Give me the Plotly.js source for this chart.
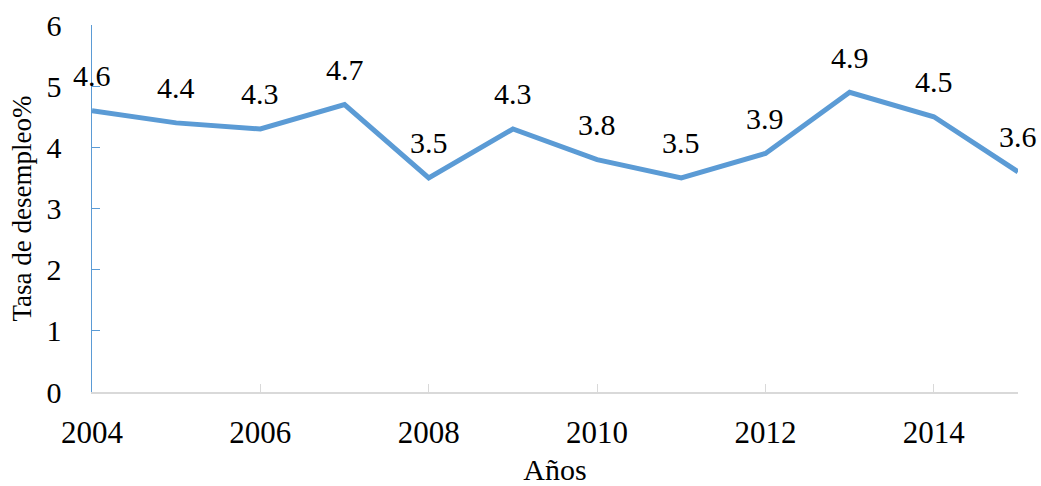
<!DOCTYPE html>
<html><head><meta charset="utf-8">
<script src="https://cdn.plot.ly/plotly-3.0.1.min.js"></script>
<style>html,body{margin:0;padding:0;background:#fff}#chart{width:1041px;height:486px}</style>
</head><body><div id="chart"></div>
<script>
const years = [2004,2005,2006,2007,2008,2009,2010,2011,2012,2013,2014,2015];
const unemployment = [4.6,4.4,4.3,4.7,3.5,4.3,3.8,3.5,3.9,4.9,4.5,3.6];
const xTitle = "Años";
const yTitle = "Tasa de desempleo%";
const font = "Liberation Serif";

const trace = {x: years, y: unemployment, type: "scatter", mode: "lines",
  line: {color: "#5B9BD5", width: 5}, hoverinfo: "none"};

const annotations = years.map((yr, i) => ({
  x: yr, y: unemployment[i], xref: "x", yref: "y", text: unemployment[i].toFixed(1),
  showarrow: false, yshift: 35, font: {family: font, size: 30, color: "#000"}
}));

Plotly.newPlot("chart", [trace], {
  width: 1041, height: 486,
  margin: {l: 92, r: 23, t: 25, b: 94},
  paper_bgcolor: "#fff", plot_bgcolor: "rgba(0,0,0,0)",
  showlegend: false,
  font: {family: font, size: 30, color: "#000"},
  xaxis: {range: [2004, 2015], tick0: 2004, dtick: 2, showgrid: false, zeroline: false,
    showline: true, linecolor: "#d9d9d9", linewidth: 2, ticks: "inside", ticklen: 8,
    tickcolor: "#d9d9d9", ticklabelstandoff: 12,
    tickfont: {family: font, size: 31, color: "#000"},
    title: {text: xTitle, font: {family: font, size: 30, color: "#000"}, standoff: 10}},
  yaxis: {range: [0, 6], dtick: 1, showgrid: false, zeroline: false,
    showline: true, linecolor: "#5B9BD5", linewidth: 1.5, ticks: "inside", ticklen: 8,
    tickcolor: "#5B9BD5", ticklabelstandoff: 23,
    tickfont: {family: font, size: 30, color: "#000"},
    title: {text: yTitle, font: {family: font, size: 27, color: "#000"}, standoff: 7}},
  annotations: annotations
}, {displayModeBar: false, staticPlot: true});
</script></body></html>
